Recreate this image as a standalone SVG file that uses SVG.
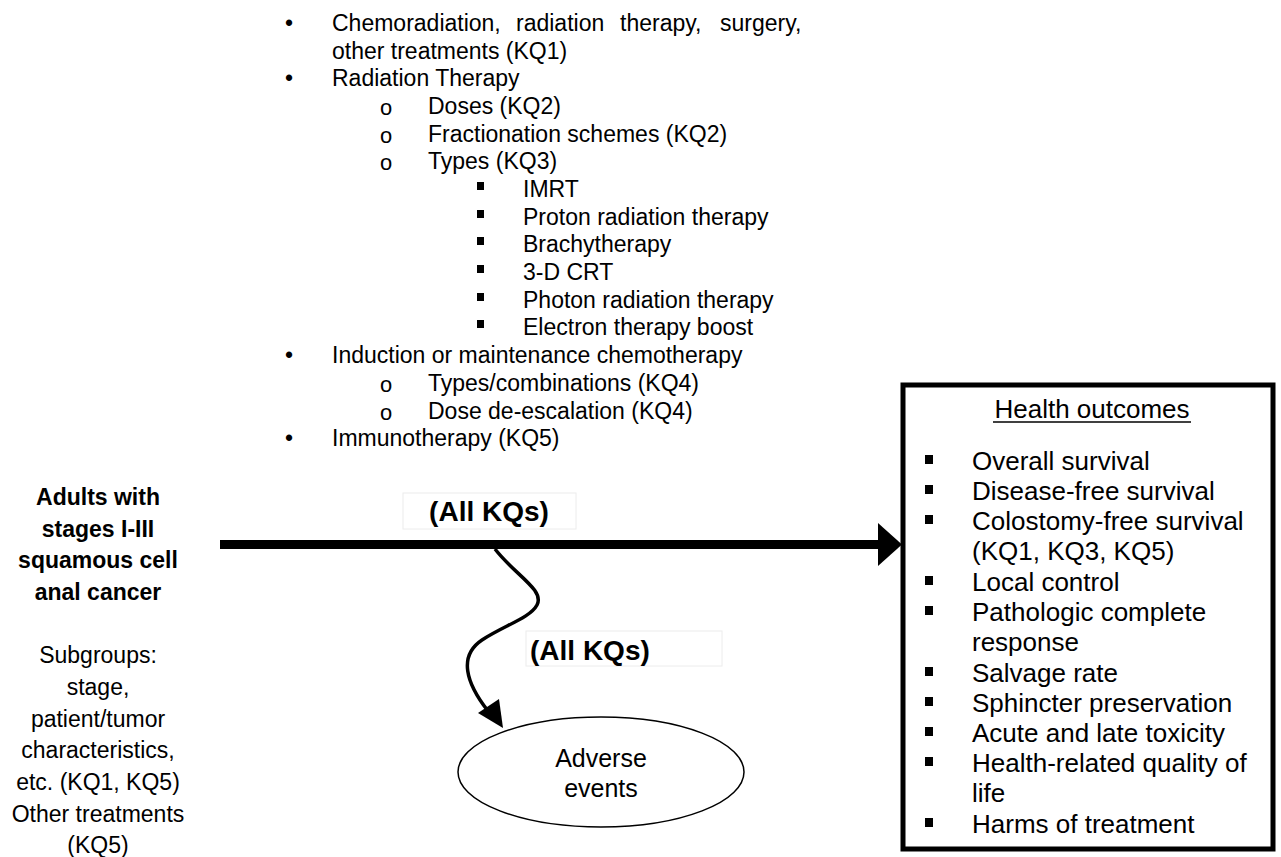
<svg xmlns="http://www.w3.org/2000/svg" width="1281" height="857" viewBox="0 0 1281 857">
<defs>
<style>
.t{font-family:"Liberation Sans",Arial,sans-serif;fill:#000}
.l{font-size:23px}
.b{font-size:23px;font-weight:bold}
.o{font-size:26px}
.k{font-size:28px;font-weight:bold}
.c{text-anchor:middle}
.m{font-family:"Liberation Mono","Courier New",monospace;font-size:22px}
</style>
</defs>
<rect width="1281" height="857" fill="#fff"/>

<g id="interventions" class="t l">
<text x="289" y="31" class="c">•</text>
<text x="332" y="31">Chemoradiation,</text>
<text x="516" y="31">radiation</text>
<text x="620" y="31">therapy,</text>
<text x="720" y="31">surgery,</text>
<text x="332" y="59">other treatments (KQ1)</text>
<text x="289" y="86" class="c">•</text>
<text x="332" y="86">Radiation Therapy</text>
<text x="386" y="115" class="c m">o</text>
<text x="428" y="114">Doses (KQ2)</text>
<text x="386" y="143" class="c m">o</text>
<text x="428" y="142">Fractionation schemes (KQ2)</text>
<text x="386" y="170" class="c m">o</text>
<text x="428" y="169">Types (KQ3)</text>
<rect x="477" y="182" width="7" height="8"/>
<text x="523" y="197">IMRT</text>
<rect x="477" y="210" width="7" height="8"/>
<text x="523" y="225">Proton radiation therapy</text>
<rect x="477" y="237" width="7" height="8"/>
<text x="523" y="252">Brachytherapy</text>
<rect x="477" y="265" width="7" height="8"/>
<text x="523" y="280">3-D CRT</text>
<rect x="477" y="293" width="7" height="8"/>
<text x="523" y="308">Photon radiation therapy</text>
<rect x="477" y="320" width="7" height="8"/>
<text x="523" y="335">Electron therapy boost</text>
<text x="289" y="363" class="c">•</text>
<text x="332" y="363">Induction or maintenance chemotherapy</text>
<text x="386" y="392" class="c m">o</text>
<text x="428" y="391">Types/combinations (KQ4)</text>
<text x="386" y="420" class="c m">o</text>
<text x="428" y="419">Dose de-escalation (KQ4)</text>
<text x="289" y="446" class="c">•</text>
<text x="332" y="446">Immunotherapy (KQ5)</text>
</g>

<g id="population" class="t c">
<text x="98" y="505" class="b">Adults with</text>
<text x="98" y="537" class="b">stages I-III</text>
<text x="98" y="568" class="b">squamous cell</text>
<text x="98" y="600" class="b">anal cancer</text>
<text x="98" y="663" class="l">Subgroups:</text>
<text x="98" y="695" class="l">stage,</text>
<text x="98" y="727" class="l">patient/tumor</text>
<text x="98" y="758" class="l">characteristics,</text>
<text x="98" y="790" class="l">etc. (KQ1, KQ5)</text>
<text x="98" y="822" class="l">Other treatments</text>
<text x="98" y="853" class="l">(KQ5)</text>
</g>

<g id="outcomes">
<rect x="903" y="385" width="370" height="464" fill="#fff" stroke="#000" stroke-width="5"/>
<g class="t o">
<text x="1092" y="418" class="c">Health outcomes</text>
<line x1="993" y1="422" x2="1191" y2="422" stroke="#000" stroke-width="1.6"/>
<rect x="925" y="455" width="8" height="9"/>
<text x="972" y="470">Overall survival</text>
<rect x="925" y="485" width="8" height="9"/>
<text x="972" y="500">Disease-free survival</text>
<rect x="925" y="515" width="8" height="9"/>
<text x="972" y="530">Colostomy-free survival</text>
<text x="972" y="560">(KQ1, KQ3, KQ5)</text>
<rect x="925" y="576" width="8" height="9"/>
<text x="972" y="591">Local control</text>
<rect x="925" y="606" width="8" height="9"/>
<text x="972" y="621">Pathologic complete</text>
<text x="972" y="651">response</text>
<rect x="925" y="667" width="8" height="9"/>
<text x="972" y="682">Salvage rate</text>
<rect x="925" y="697" width="8" height="9"/>
<text x="972" y="712">Sphincter preservation</text>
<rect x="925" y="727" width="8" height="9"/>
<text x="972" y="742">Acute and late toxicity</text>
<rect x="925" y="757" width="8" height="9"/>
<text x="972" y="772">Health-related quality of</text>
<text x="972" y="802">life</text>
<rect x="925" y="818" width="8" height="9"/>
<text x="972" y="833">Harms of treatment</text>
</g>
</g>

<g id="adverse">
<ellipse cx="601" cy="772" rx="143" ry="55" fill="#fff" stroke="#000" stroke-width="1.5"/>
<text x="601" y="767" class="t c" font-size="25">Adverse</text>
<text x="601" y="797" class="t c" font-size="25">events</text>
</g>

<g id="connectors">
<line x1="220" y1="544.5" x2="880" y2="544.5" stroke="#000" stroke-width="9"/>
<path d="M878,523 L902,544.5 L878,566 z" fill="#000"/>
<path d="M495,549 C515,575 545,590 537,605 C530,618 505,625 482,640 C458,656 466,683 488,711" fill="none" stroke="#000" stroke-width="3.5"/>
<path d="M503,728 L478,713 L499,699 z" fill="#000"/>
</g>

<g id="label-top">
<rect x="403" y="493" width="173" height="36" fill="#fff" stroke="#ececec" stroke-width="1"/>
<text x="489" y="521" class="t k c">(All KQs)</text>
</g>
<g id="label-adverse">
<rect x="526" y="631" width="196" height="35" fill="#fff" stroke="#ececec" stroke-width="1"/>
<text x="530" y="660" class="t k">(All KQs)</text>
</g>
</svg>
